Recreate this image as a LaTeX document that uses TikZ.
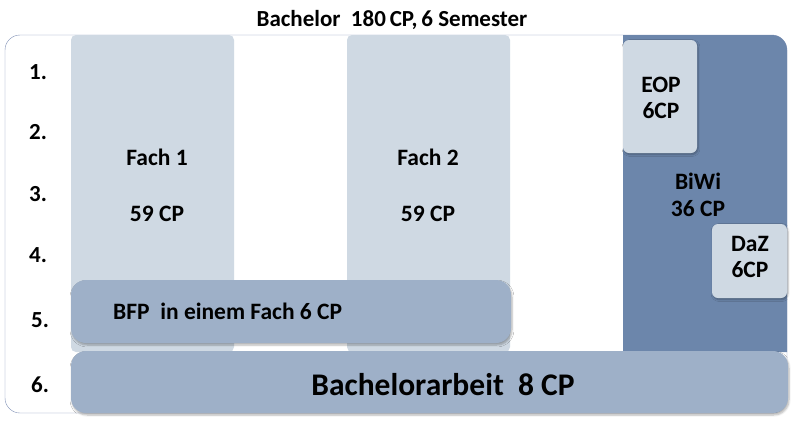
\documentclass[tikz,border=0pt]{standalone}
\usepackage{fontspec}
\setmainfont{Carlito}
\usetikzlibrary{shadows.blur}
\definecolor{light}{HTML}{CFD9E3}
\definecolor{mid}{HTML}{9EB0C8}
\definecolor{dark}{HTML}{6C86AB}
\definecolor{frame}{HTML}{7F8FB5}
\tikzset{
  col/.style={fill=light, rounded corners=5pt},
  small/.style={fill=light, rounded corners=6pt, blur shadow={shadow blur steps=6, shadow xshift=1pt, shadow yshift=-1.5pt, shadow opacity=30}},
  bar/.style={fill=mid, rounded corners=15pt, blur shadow={shadow blur steps=6, shadow xshift=1pt, shadow yshift=-2pt, shadow opacity=30}},
  lbl/.style={font=\bfseries\fontsize{23.5}{25}\selectfont, align=center, inner sep=0pt},
  sem/.style={font=\bfseries\fontsize{23}{25}\selectfont, inner sep=0pt},
}
\begin{document}
\begin{tikzpicture}[x=1pt,y=-1pt]
\useasboundingbox (0,0) rectangle (800,440);
\node[font=\bfseries\fontsize{23}{25}\selectfont, inner sep=0pt] (title) at (392,20) {Bachelor\ \ 180\,CP,\,6 Semester};
\draw[frame, fill=white, rounded corners=15pt] (5,35) rectangle (787,413);
\path[col] (71,35) rectangle (234,352);
\path[col] (347,35) rectangle (510,352);
\path[fill=dark] (623,352) -- (623,35) [rounded corners=15pt]-- (787,35) [sharp corners]-- (787,352) -- cycle;
\path[small] (623,40) rectangle (697,153);
\path[small] (712,224) rectangle (787,298);
\path[bar] (71,280) rectangle (511,343);
\path[bar] (71,351) rectangle (788,413);
\node[lbl] (f1) at (157,157) {Fach 1};
\node[lbl] (f1cp) at (157,214) {59 CP};
\node[lbl] (f2) at (428,157) {Fach 2};
\node[lbl] (f2cp) at (428,214) {59 CP};
\node[lbl] (biwi) at (698,181) {BiWi};
\node[lbl] (biwicp) at (698,209) {36 CP};
\node[lbl] (eop) at (661,98) {EOP\\[1pt]6CP};
\node[lbl] (daz) at (750,257) {DaZ\\[1pt]6CP};
\node[lbl, anchor=west, font=\bfseries\fontsize{23.5}{25}\selectfont] (bfp) at (113,311) {BFP\ \ in einem Fach 6 CP};
\node[font=\bfseries\fontsize{31.5}{33}\selectfont, inner sep=0pt] (ba) at (443,385) {Bachelorarbeit\ \ 8 CP};
\node[sem] (s1) at (38,72) {1.};
\node[sem] (s2) at (38,132) {2.};
\node[sem] (s3) at (38,194) {3.};
\node[sem] (s4) at (38,255) {4.};
\node[sem] (s5) at (40,320) {5.};
\node[sem] (s6) at (40,385) {6.};
\end{tikzpicture}
\end{document}
